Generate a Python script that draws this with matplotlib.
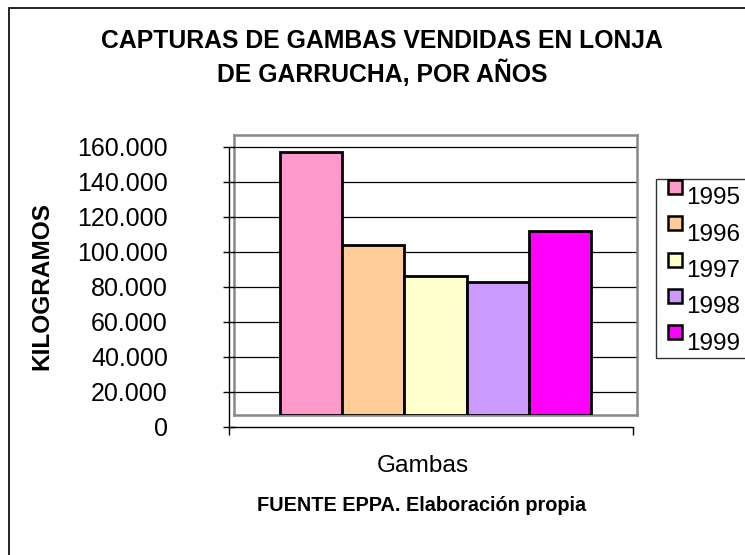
import matplotlib
matplotlib.use("Agg")
import matplotlib.pyplot as plt
from matplotlib.patches import Rectangle
from matplotlib.ticker import FuncFormatter
from matplotlib.transforms import blended_transform_factory

plt.rcParams['font.family'] = ['Liberation Sans', 'DejaVu Sans']

# data
categories = ['Gambas']
years = ['1995', '1996', '1997', '1998', '1999']
kilos = [157000, 104000, 86000, 82500, 112000]
colors = ['#FF99CC', '#FFCC99', '#FFFFCC', '#CC99FF', '#FF00FF']
y_ticks = list(range(0, 160001, 20000))

W, H = 745, 555

def fx(px):
    return px / W

def fy(py):
    return 1 - py / H

fig = plt.figure(figsize=(W / 100, H / 100), dpi=100)

# outer frame of the chart (cut at right / bottom like the original)
fig.add_artist(Rectangle((fx(9), -0.02), 1.1, fy(8) + 0.02, transform=fig.transFigure,
                         fill=False, edgecolor='black', linewidth=1.2))

# px per kg on the value axis (0 at y=426.7, 160000 at y=146.7)
scale = (426.7 - 146.7) / 160000
floor = (426.7 - 415) / scale
top = (426.7 - 135) / scale

# back wall / plot area (grey box) with the bars
ax = fig.add_axes([fx(234), fy(415), fx(637) - fx(234), fy(135) - fy(415)])
ax.set_yticks(y_ticks[1:])
ax.set_ylim(floor, top)
ax.set_xlim(-1.24, len(years) - 1 + 1.24)
ax.yaxis.grid(True, color='black', linewidth=0.9)
ax.set_axisbelow(True)
ax.tick_params(left=False, bottom=False, labelleft=False, labelbottom=False)
ax.set_xticks([])
for s in ax.spines.values():
    s.set_color('#888888')
    s.set_linewidth(1.8)
heights = [v - floor for v in kilos]
ax.bar(range(len(years)), heights, bottom=floor, width=1.0, color=colors,
       edgecolor='black', linewidth=2, zorder=3)
ax.set_ylim(floor, top)

# value axis + category axis (front)
ax2 = fig.add_axes([fx(229), fy(426.7), fx(633) - fx(229), fy(146.7) - fy(426.7)])
ax2.patch.set_alpha(0)
ax2.set_yticks(y_ticks)
ax2.set_ylim(0, 160000)
ax2.set_xlim(0, 1)
ax2.yaxis.set_major_formatter(FuncFormatter(lambda v, p: f"{v:,.0f}".replace(',', '.')))
ax2.set_xticks([0, 1])
ax2.set_xticklabels([])
for side in ['top', 'right']:
    ax2.spines[side].set_visible(False)
for side in ['left', 'bottom']:
    ax2.spines[side].set_linewidth(1.0)
ax2.tick_params(axis='y', direction='inout', length=8, width=1.0, pad=40, labelsize=18)
ax2.tick_params(axis='x', direction='out', length=6, width=1.0)
trans = blended_transform_factory(ax2.transAxes, fig.transFigure)
ax2.text(0.48, fy(472), categories[0], transform=trans, ha='center', va='baseline', fontsize=17.6)

# titles and labels
fig.text(fx(382), fy(48), 'CAPTURAS DE GAMBAS VENDIDAS EN LONJA', ha='center', va='baseline',
         fontsize=17.8, fontweight='bold')
fig.text(fx(382), fy(81.5), 'DE GARRUCHA, POR AÑOS', ha='center', va='baseline',
         fontsize=17.8, fontweight='bold')
fig.text(fx(42), fy(286), 'KILOGRAMOS', rotation=90, ha='center', va='center',
         fontsize=17.6, fontweight='bold')
fig.text(fx(422), fy(511), 'FUENTE EPPA. Elaboración propia', ha='center', va='baseline',
         fontsize=14.3, fontweight='bold')

# legend drawn by hand (square above-left of the label, like the original)
fig.add_artist(Rectangle((fx(656), fy(358)), 1.0, fy(179) - fy(358), transform=fig.transFigure,
                         fill=False, edgecolor='#333333', linewidth=1.0))
step = 36.25
for i, (yr, c) in enumerate(zip(years, colors)):
    y0 = 180 + i * step
    fig.add_artist(Rectangle((fx(668), fy(y0 + 14)), fx(14), 14 / H, transform=fig.transFigure,
                             facecolor=c, edgecolor='black', linewidth=1.8))
    fig.text(fx(686), fy(y0 + 24.5), yr, ha='left', va='baseline', fontsize=17.5)

fig.savefig('out.png', dpi=100)
